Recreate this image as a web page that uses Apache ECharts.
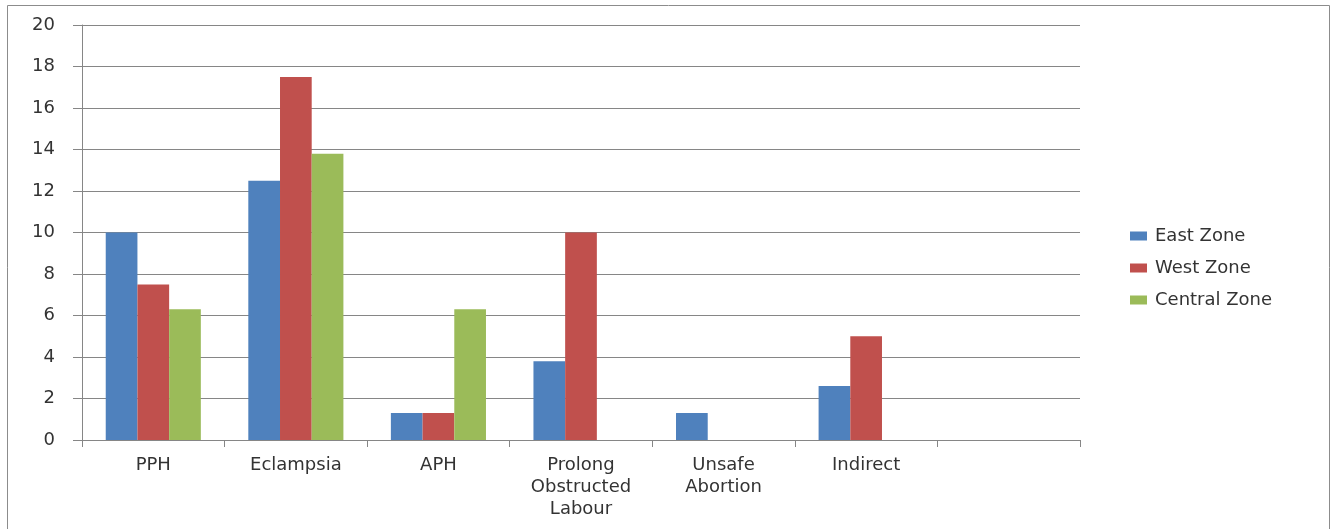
<!DOCTYPE html>
<html>
<head>
<meta charset="utf-8">
<script src="https://cdn.jsdelivr.net/npm/echarts@6/dist/echarts.min.js"></script>
<style>
  html, body { margin: 0; padding: 0; background: #fff; }
  #chart { width: 1338px; height: 529px; }
</style>
</head>
<body>
<div id="chart"></div>
<script>
// categories (last one is empty in the original)
const categories = ['PPH', 'Eclampsia', 'APH', 'Prolong\nObstructed\nLabour', 'Unsafe\nAbortion', 'Indirect', '']
const eastZone = [10, 12.5, 1.3, 3.8, 1.3, 2.6, null]
const westZone = [7.5, 17.5, 1.3, 10, 0, 5, null]
const centralZone = [6.3, 13.8, 6.3, 0, 0, 0, null]
const seriesNames = ['East Zone', 'West Zone', 'Central Zone']
const colors = ['#4F81BD', '#C0504D', '#9BBB59']

const font = 'DejaVu Sans'
const chart = echarts.init(document.getElementById('chart'))

chart.setOption({
  animation: false,
  textStyle: { fontFamily: font },
  graphic: [{
    type: 'rect',
    shape: { x: 7.5, y: 5.5, width: 1322, height: 540 },
    style: { fill: 'none', stroke: '#8c8c8c', lineWidth: 1 },
    silent: true
  }],
  legend: {
    orient: 'vertical',
    left: 1125,
    top: 220,
    itemWidth: 17,
    itemHeight: 9,
    itemGap: 10,
    icon: 'rect',
    data: seriesNames,
    textStyle: { fontFamily: font, fontSize: 18, lineHeight: 22, color: '#333', padding: [0, 0, 0, 3] }
  },
  grid: {
    left: 82,
    right: 258,
    top: 25,
    bottom: 89,
    containLabel: false
  },
  xAxis: {
    type: 'category',
    data: categories,
    axisLine: { lineStyle: { color: '#868686', width: 1 } },
    axisTick: { show: true, length: 7, lineStyle: { color: '#868686' } },
    axisLabel: {
      interval: 0,
      margin: 14,
      fontSize: 18,
      lineHeight: 22,
      color: '#333',
      fontFamily: font
    }
  },
  yAxis: {
    type: 'value',
    min: 0,
    max: 20,
    interval: 2,
    axisLine: { show: true, lineStyle: { color: '#868686' } },
    axisTick: { show: true, length: 9, lineStyle: { color: '#868686' } },
    splitLine: { lineStyle: { color: '#868686', width: 1 } },
    axisLabel: { fontSize: 18, color: '#333', margin: 27, fontFamily: font }
  },
  series: [eastZone, westZone, centralZone].map((values, i) => ({
    name: seriesNames[i],
    type: 'bar',
    data: values,
    itemStyle: { color: colors[i] },
    barGap: '0%',
    barCategoryGap: '33.3%' // Excel gap width 150%
  }))
})
</script>
</body>
</html>
